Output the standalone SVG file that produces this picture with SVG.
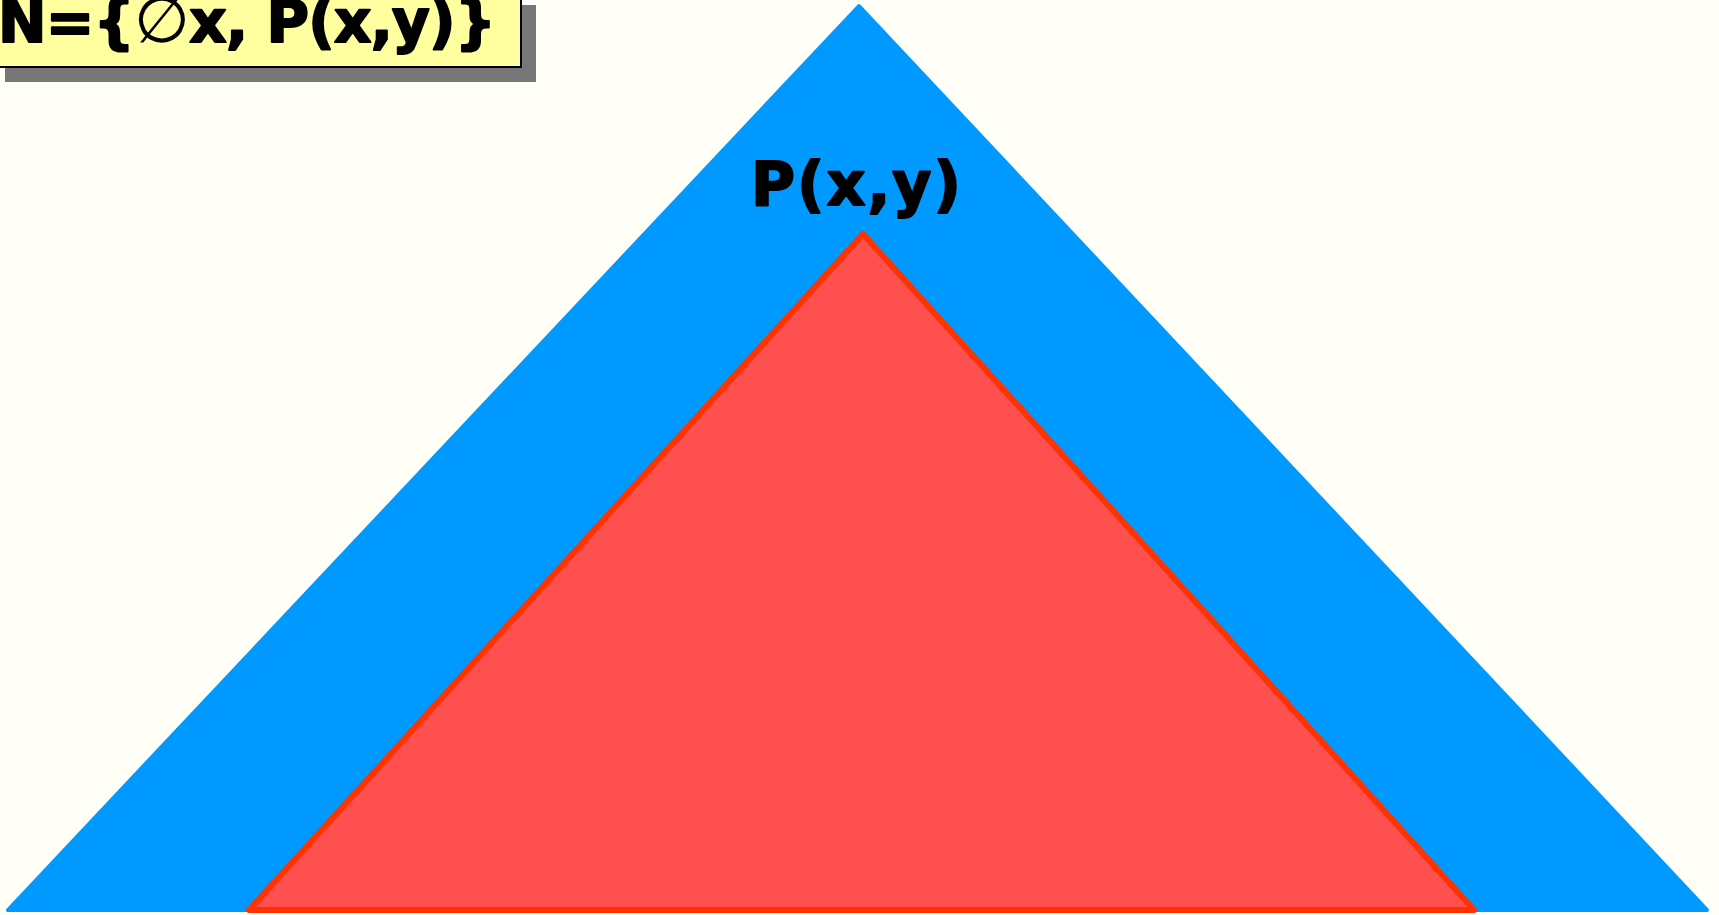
<svg xmlns="http://www.w3.org/2000/svg" width="1719" height="915" viewBox="0 0 1719 915">
  <style>
    .lbl { font-family: "DejaVu Sans", "Liberation Sans", sans-serif; font-weight: bold; fill: #000; stroke: #000; stroke-width: 2; stroke-linejoin: round; }
    .sym { font-family: "Liberation Serif", "DejaVu Serif", serif; font-weight: normal; stroke: none; }
  </style>
  <rect x="0" y="0" width="1719" height="915" fill="#FFFFF7"/>
  <g id="outer-triangle">
    <polygon points="859,6 8,910 1707,910" fill="#0099FF" stroke="#0099FF" stroke-width="4" stroke-linejoin="round"/>
  </g>
  <g id="inner-triangle">
    <polygon points="863,234 249,910 1474,910" fill="#FF5050" stroke="#FF3300" stroke-width="6" stroke-linejoin="round"/>
  </g>
  <g id="apex-label">
    <text class="lbl" x="751" y="205" font-size="60" textLength="210" lengthAdjust="spacing">P(x,y)</text>
  </g>
  <g id="title-box">
    <rect x="5" y="5" width="531" height="77" fill="#777777"/>
    <rect x="-10" y="-10" width="531" height="77" fill="#FFFFA0" stroke="#000" stroke-width="2"/>
    <text class="lbl" x="-2" y="42" font-size="58" textLength="498" lengthAdjust="spacing">N={<tspan class="sym" font-size="64">∅</tspan>x, P(x,y)}</text>
  </g>
  <g id="connectors"/>
</svg>
